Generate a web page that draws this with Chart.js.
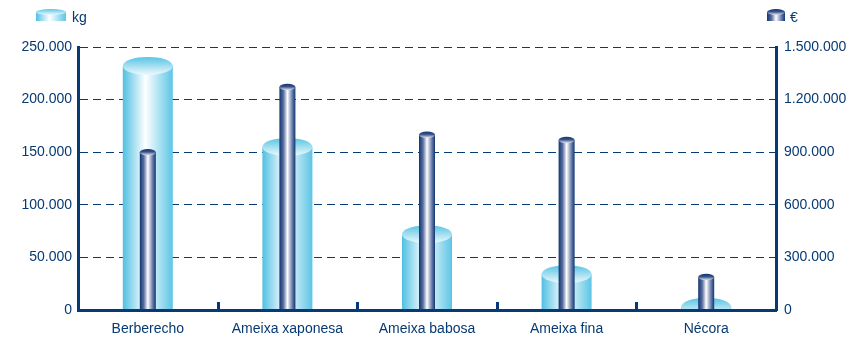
<!DOCTYPE html>
<html>
<head>
<meta charset="utf-8">
<script src="https://cdn.jsdelivr.net/npm/chart.js@4.4.1/dist/chart.umd.min.js"></script>
<style>
  html, body { margin: 0; padding: 0; background: #ffffff; }
  #wrap { width: 857px; height: 355px; position: relative; }
</style>
</head>
<body>
<div id="wrap"><canvas id="chart"></canvas></div>
<script>
const categories = ["Berberecho", "Ameixa xaponesa", "Ameixa babosa", "Ameixa fina", "Nécora"];
const kgValues = [232000, 155000, 72000, 34000, 3000];
const euroValues = [900000, 1272000, 1000000, 970000, 188000];
const kgTicks = [0, 50000, 100000, 150000, 200000, 250000];
const euroTicks = [0, 300000, 600000, 900000, 1200000, 1500000];

const navy = "#063a74";
const fontFamily = "'Liberation Sans', Arial, sans-serif";

function formatThousands(value) {
  return String(value).replace(/\B(?=(\d{3})+(?!\d))/g, ".");
}

function kgBodyGradient(ctx, left, right) {
  const g = ctx.createLinearGradient(left, 0, right, 0);
  g.addColorStop(0, "#50c0e3");
  g.addColorStop(0.45, "#ffffff");
  g.addColorStop(1, "#5cc5e5");
  return g;
}

function euroBodyGradient(ctx, left, right) {
  const g = ctx.createLinearGradient(left, 0, right, 0);
  g.addColorStop(0, "#0e3672");
  g.addColorStop(0.25, "#5a6d9e");
  g.addColorStop(0.5, "#ffffff");
  g.addColorStop(0.8, "#6a7daa");
  g.addColorStop(1, "#0e3672");
  return g;
}

function drawCylinder(ctx, x, top, base, width, kind, ry) {
  const left = x - width / 2;
  const right = x + width / 2;
  if (ry === undefined) ry = kind === "kg" ? width * 0.18 : width * 0.2;
  ctx.save();
  ctx.fillStyle = kind === "kg" ? kgBodyGradient(ctx, left, right) : euroBodyGradient(ctx, left, right);
  ctx.fillRect(left, top, width, base - top);
  const cap = ctx.createLinearGradient(0, top - ry, 0, top + ry);
  if (kind === "kg") {
    cap.addColorStop(0, "#58c4e5");
    cap.addColorStop(1, "#eef9fc");
  } else {
    cap.addColorStop(0, "#0e3672");
    cap.addColorStop(0.45, "#3a5288");
    cap.addColorStop(1, "#e4e8f2");
  }
  ctx.fillStyle = cap;
  ctx.beginPath();
  ctx.ellipse(x, top, width / 2, ry, 0, 0, Math.PI * 2);
  ctx.fill();
  ctx.restore();
}

const cylinderPlugin = {
  id: "cylinders",
  afterDatasetDraw(chart, args) {
    const ctx = chart.ctx;
    const kind = chart.data.datasets[args.index].kind;
    ctx.save();
    ctx.beginPath();
    ctx.rect(0, 0, chart.width, chart.chartArea.bottom - 1);
    ctx.clip();
    args.meta.data.forEach((bar) => {
      drawCylinder(ctx, bar.x, bar.y, bar.base, bar.width, kind);
    });
    ctx.restore();
  },
  afterDraw(chart) {
    const ctx = chart.ctx;
    const xScale = chart.scales.x;
    const bottom = chart.chartArea.bottom;
    ctx.save();
    ctx.fillStyle = navy;
    for (let i = 1; i < categories.length; i++) {
      const px = (xScale.getPixelForValue(i - 1) + xScale.getPixelForValue(i)) / 2;
      ctx.fillRect(Math.round(px) - 1, bottom - 8, 3, 8);
    }
    // legend
    drawCylinder(ctx, 51, 12, 21, 30, "kg", 3);
    drawCylinder(ctx, 776, 12, 21, 18, "euro", 3);
    ctx.fillStyle = navy;
    ctx.font = "14px " + fontFamily;
    ctx.textBaseline = "middle";
    ctx.textAlign = "left";
    ctx.fillText("kg", 72, 18);
    ctx.fillText("€", 790, 18);
    ctx.restore();
  },
};

new Chart(document.getElementById("chart"), {
  type: "bar",
  data: {
    labels: categories,
    datasets: [
      {
        label: "€",
        kind: "euro",
        data: euroValues,
        yAxisID: "y1",
        backgroundColor: "rgba(0,0,0,0)",
        barThickness: 16,
        grouped: false,
        order: 0,
      },
      {
        label: "kg",
        kind: "kg",
        data: kgValues,
        yAxisID: "y",
        backgroundColor: "rgba(0,0,0,0)",
        barThickness: 50,
        grouped: false,
        order: 1,
      },
    ],
  },
  options: {
    responsive: true,
    maintainAspectRatio: false,
    animation: false,
    layout: { padding: { top: 47, right: 0, left: 0, bottom: 0 } },
    plugins: {
      legend: { display: false },
      tooltip: { enabled: false },
    },
    scales: {
      x: {
        grid: { display: false },
        border: { color: navy, width: 3 },
        ticks: {
          color: navy,
          font: { family: fontFamily, size: 14 },
          padding: 3,
        },
        afterFit: (scale) => { scale.height = 45; },
      },
      y: {
        position: "left",
        min: 0,
        max: 250000,
        afterBuildTicks: (scale) => { scale.ticks = kgTicks.map((v) => ({ value: v })); },
        grid: {
          color: navy,
          lineWidth: (c) => (c.tick && c.tick.value === 0 ? 0 : 1),
          drawTicks: false,
        },
        border: { color: navy, width: 3, dash: [8, 5] },
        ticks: {
          color: navy,
          padding: 6,
          font: { family: fontFamily, size: 14 },
          callback: (v) => formatThousands(v),
        },
        afterFit: (scale) => { scale.width = 78; },
      },
      y1: {
        position: "right",
        min: 0,
        max: 1500000,
        afterBuildTicks: (scale) => { scale.ticks = euroTicks.map((v) => ({ value: v })); },
        grid: { display: false, drawTicks: false },
        border: { color: navy, width: 3 },
        ticks: {
          color: navy,
          padding: 8,
          font: { family: fontFamily, size: 14 },
          callback: (v) => formatThousands(v),
        },
        afterFit: (scale) => { scale.width = 81; },
      },
    },
  },
  plugins: [cylinderPlugin],
});
</script>
</body>
</html>
